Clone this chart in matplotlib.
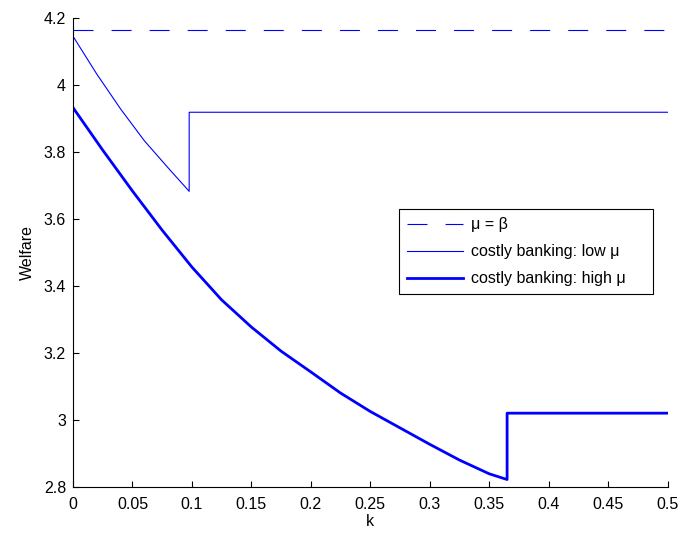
import matplotlib
matplotlib.use("Agg")
from matplotlib import pyplot as plt
from matplotlib.ticker import FuncFormatter

# values
k_flat = [0.0, 0.5]
welfare_beta = [4.163, 4.163]

k_low = [0.0, 0.02, 0.04, 0.06, 0.08, 0.0977, 0.0977, 0.5]
welfare_low = [4.145, 4.032, 3.928, 3.833, 3.752, 3.682, 3.918, 3.918]

k_high = [0.0, 0.025, 0.05, 0.075, 0.1, 0.125, 0.15, 0.175, 0.2, 0.225,
          0.25, 0.275, 0.3, 0.325, 0.35, 0.365, 0.365, 0.5]
welfare_high = [3.932, 3.805, 3.683, 3.566, 3.456, 3.358, 3.277, 3.205, 3.143, 3.080,
                3.025, 2.976, 2.927, 2.880, 2.839, 2.822, 3.020, 3.020]

labels = ['\u03bc = \u03b2', 'costly banking: low \u03bc', 'costly banking: high \u03bc']
x_ticks = [0, 0.05, 0.1, 0.15, 0.2, 0.25, 0.3, 0.35, 0.4, 0.45, 0.5]
y_ticks = [2.8, 3.0, 3.2, 3.4, 3.6, 3.8, 4.0, 4.2]

plt.rcParams['font.family'] = ['Liberation Sans', 'DejaVu Sans']
plt.rcParams['lines.scale_dashes'] = False

fig = plt.figure(figsize=(6.82, 5.38), dpi=100)
ax = fig.add_axes([0.107, 0.095, 0.872, 0.872])

ax.plot(k_flat, welfare_beta, color='#0000ff', lw=0.8, dashes=(14.4, 13), label=labels[0])
ax.plot(k_low, welfare_low, color='#0000ff', lw=0.8, label=labels[1])
ax.plot(k_high, welfare_high, color='#0000ff', lw=2.0, label=labels[2])

ax.set_xlim(0, 0.5)
ax.set_ylim(2.8, 4.2)
ax.set_xticks(x_ticks)
ax.set_yticks(y_ticks)
fmt = FuncFormatter(lambda v, pos: '%g' % round(v, 4))
ax.xaxis.set_major_formatter(fmt)
ax.yaxis.set_major_formatter(fmt)
ax.tick_params(direction='in', length=4, labelsize=11.5, width=0.8)
ax.tick_params(axis='x', pad=7)
ax.tick_params(axis='y', pad=5)
ax.spines['top'].set_visible(False)
ax.spines['right'].set_visible(False)
ax.set_xlabel('k', fontsize=11.5, labelpad=2)
ax.set_ylabel('Welfare', fontsize=11.5, labelpad=6)

leg = ax.legend(loc='upper left', bbox_to_anchor=(0.548, 0.592, 0.427, 0.0),
                mode='expand', fontsize=11.5, fancybox=False, framealpha=1,
                edgecolor='black', handlelength=3.5, borderpad=0.5,
                labelspacing=0.75, handletextpad=0.5, borderaxespad=0)
leg.get_frame().set_linewidth(0.8)

fig.savefig('out.png', dpi=100)
